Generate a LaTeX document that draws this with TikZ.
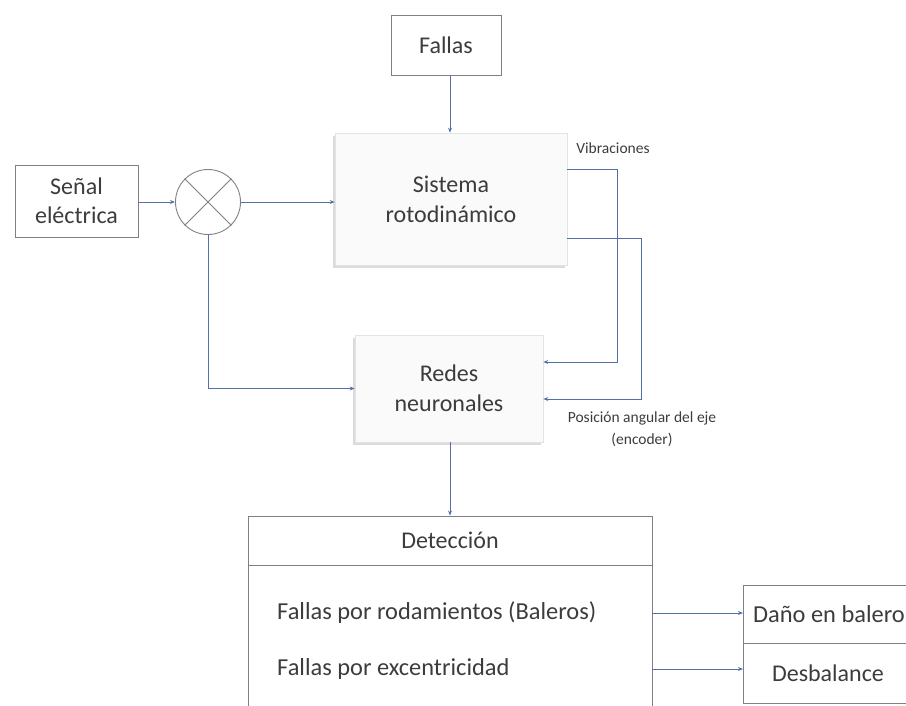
\documentclass[tikz,border=0pt]{standalone}
\usepackage{fontspec}
\setmainfont{Carlito}
\usetikzlibrary{arrows.meta,shadows}
\definecolor{conn}{RGB}{84,112,168}
\definecolor{txt}{RGB}{60,60,60}
\definecolor{edge}{RGB}{128,128,128}
\begin{document}
\begin{tikzpicture}[x=1pt,y=-1pt,
  every node/.style={text=txt},
  plain/.style={draw=edge,line width=0.9pt,rectangle,align=center,inner sep=0pt,
    font=\fontsize{24}{29.5}\selectfont},
  raised/.style={draw=gray!22,fill=gray!4,line width=0.6pt,rectangle,align=center,inner sep=0pt,
    font=\fontsize{24}{30}\selectfont,
    drop shadow={shadow xshift=-2.5pt,shadow yshift=-3pt,opacity=0.35,fill=gray!80}},
  conn/.style={draw=conn,line width=0.9pt,-{Stealth[length=5pt,width=4pt]}},
  lab/.style={font=\fontsize{15.5}{22}\selectfont,align=center,inner sep=0pt},
  row/.style={font=\fontsize{24.4}{29}\selectfont,anchor=west,inner sep=0pt}]
\useasboundingbox (0,0) rectangle (906,705);
\clip (0,0) rectangle (906,705);
% nodes
\node[plain,minimum width=110pt,minimum height=60pt] (fallas) at (446,45) {Fallas};
\node[raised,minimum width=232pt,minimum height=132pt] (sistema) at (451,199) {Sistema\\rotodinámico};
\node[plain,minimum width=123pt,minimum height=72pt] (senal) at (76.5,201) {Señal\\eléctrica};
\node[circle,draw=edge,line width=0.9pt,minimum size=65pt,inner sep=0pt] (circ) at (208,202) {};
\draw[edge,line width=0.9pt] (circ.north east) -- (circ.south west) (circ.north west) -- (circ.south east);
\node[raised,minimum width=188pt,minimum height=107pt] (redes) at (449,388.5) {Redes\\neuronales};
\node[lab] (vib) at (613,148) {Vibraciones};
\node[lab] (pos) at (642,429) {Posición angular del eje\\(encoder)};
% detection box
\node[plain,minimum width=404pt,minimum height=49pt] (det) at (450,540.5) {Detección};
\node[plain,minimum width=404pt,minimum height=200pt,anchor=north] (detbody) at (det.south) {};
\node[row] (r1) at (277,613) {Fallas por rodamientos (Baleros)};
\node[row] (r2) at (277,669) {Fallas por excentricidad};
\node[plain,minimum width=176pt,minimum height=58pt,anchor=north west] (dano) at (743,585) {};
\node[row] (danot) at (753,614) {Daño en balero};
\node[plain,minimum width=176pt,minimum height=60pt,anchor=north west] (desb) at (743,643) {};
\node[font=\fontsize{24}{29}\selectfont,inner sep=0pt] (desbt) at (828,673) {Desbalance};
% connectors
\draw[conn] (fallas.south -| 450,0) -- (sistema.north -| 450,0);
\draw[conn] (senal.east |- circ.west) -- (circ.west);
\draw[conn] (circ.east) -- (circ.east -| sistema.west);
\draw[conn] (circ.south) |- (redes.west);
\draw[conn] ([yshift=30pt]sistema.east) -- (617,169) -- (617,362) -- ([yshift=26.5pt]redes.east);
\draw[conn] ([yshift=-39pt]sistema.east) -- (641,238) -- (641,399) -- ([yshift=-10.5pt]redes.east);
\draw[conn] (redes.south -| 450,0) -- (det.north -| 450,0);
\draw[conn] (r1 -| detbody.east) -- (r1 -| dano.west);
\draw[conn] (r2 -| detbody.east) -- (r2 -| desb.west);
\end{tikzpicture}
\end{document}
